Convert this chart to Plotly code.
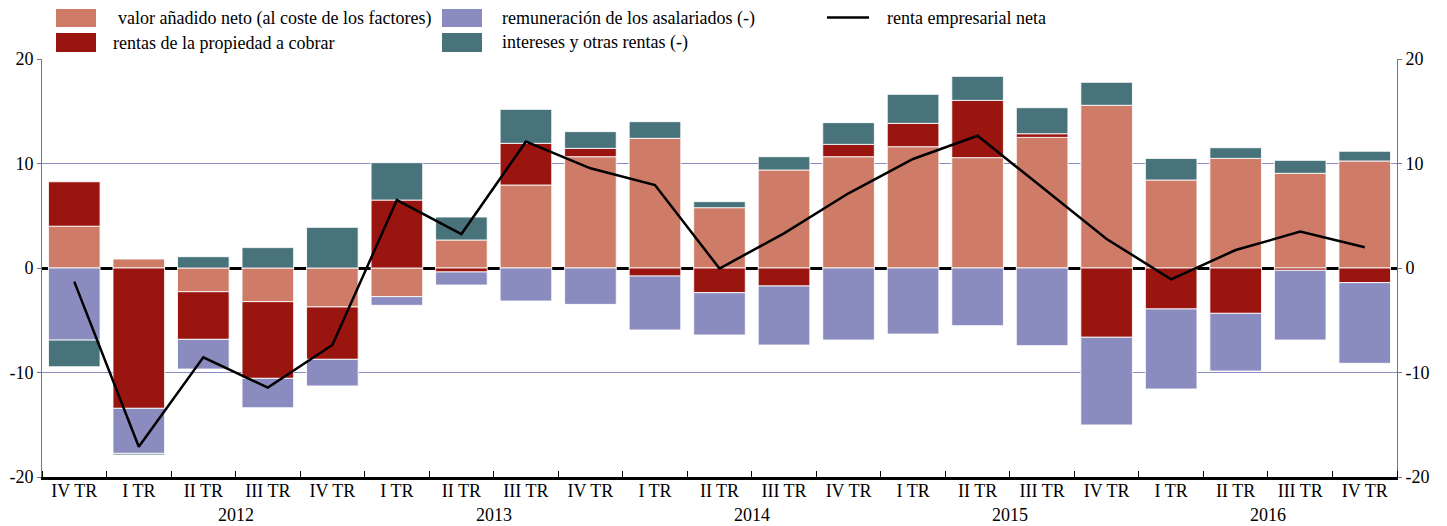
import plotly.graph_objects as go

# trimestres (el primero es IV TR 2011)
quarters = ["IV TR", "I TR", "II TR", "III TR", "IV TR",
            "I TR", "II TR", "III TR", "IV TR",
            "I TR", "II TR", "III TR", "IV TR",
            "I TR", "II TR", "III TR", "IV TR",
            "I TR", "II TR", "III TR", "IV TR"]
years = ["2012", "2013", "2014", "2015", "2016"]
year_first_idx = [1, 5, 9, 13, 17]

valor_anadido = [4.0, 0.86, -2.27, -3.22, -3.73, -2.74, 2.68, 7.94, 10.65, 12.41, 5.77,
                 9.38, 10.65, 11.61, 10.56, 12.5, 15.57, 8.42, 10.49, 9.06, 10.24]
rentas_propiedad = [4.25, -13.43, -4.56, -7.34, -5.01, 6.5, -0.38, 3.99, 0.8, -0.77, -2.36,
                    -1.72, 1.18, 2.23, 5.48, 0.35, -6.63, -3.92, -4.34, -0.22, -1.4]
remuneracion = [-6.9, -4.31, -2.84, -2.81, -2.55, -0.83, -1.25, -3.16, -3.48, -5.16, -4.05,
                -5.65, -6.89, -6.32, -5.52, -7.43, -8.39, -7.66, -5.52, -6.67, -7.72]
intereses = [-2.55, -0.15, 1.08, 1.95, 3.89, 3.58, 2.2, 3.25, 1.6, 1.59, 0.58,
             1.27, 2.08, 2.78, 2.3, 2.49, 2.2, 2.07, 1.02, 1.24, 0.93]
renta_neta = [-1.3, -17.1, -8.55, -11.45, -7.37, 6.5, 3.25, 12.09, 9.54, 7.94, -0.05,
              3.32, 7.15, 10.43, 12.66, 7.72, 2.78, -1.08, 1.72, 3.48, 1.98]

y_ticks = [-20, -10, 0, 10, 20]
y_ticktext = ["-20", "-10", "0", "10", "20"]

FONT = "Liberation Serif"
FS = 18
C_VALOR = "#CE7B68"
C_RENTAS = "#9B1510"
C_REMUN = "#8A8BBE"
C_INTER = "#48737B"

x = list(range(len(quarters)))

fig = go.Figure()
series = [
    ("valor añadido neto (al coste de los factores)", valor_anadido, C_VALOR),
    ("rentas de la propiedad a cobrar", rentas_propiedad, C_RENTAS),
    ("remuneración de los asalariados (-)", remuneracion, C_REMUN),
    ("intereses y otras rentas (-)", intereses, C_INTER),
]
for name, vals, color in series:
    fig.add_trace(go.Bar(
        x=x, y=vals, name=name,
        marker=dict(color=color, line=dict(color="rgba(255,255,255,0.85)", width=1)),
    ))

fig.add_trace(go.Scatter(
    x=x, y=renta_neta, name="renta empresarial neta", mode="lines",
    line=dict(color="black", width=2.5), yaxis="y2",
))

# leyenda dibujada a mano (cuadros grandes como en el original)
# posiciones en px de la imagen -> coordenadas "paper" del área de dibujo
def px_x(p):
    return (p - 42) / 1355


def px_y(p):
    return (477 - p) / 418


# (texto, color, x cuadro, y arriba, y abajo, x texto)
legend_items = [
    (series[0][0], C_VALOR, 56, 9, 27, 116),
    (series[1][0], C_RENTAS, 56, 33, 52, 111),
    (series[2][0], C_REMUN, 442, 9, 27, 500),
    (series[3][0], C_INTER, 442, 33, 52, 500),
]
shapes = []
annotations = []
for text, color, lx, y_top, y_bot, tx in legend_items:
    shapes.append(dict(type="rect", xref="paper", yref="paper",
                       x0=px_x(lx), x1=px_x(lx + 40), y0=px_y(y_bot), y1=px_y(y_top),
                       fillcolor=color, line=dict(width=0)))
    annotations.append(dict(xref="paper", yref="paper", x=px_x(tx), y=px_y((y_top + y_bot) / 2),
                            text=text, showarrow=False, xanchor="left", yanchor="middle",
                            font=dict(family=FONT, size=FS, color="black")))
shapes.append(dict(type="line", xref="paper", yref="paper",
                   x0=px_x(827), x1=px_x(869), y0=px_y(17.5), y1=px_y(17.5),
                   line=dict(color="black", width=2.5)))
annotations.append(dict(xref="paper", yref="paper", x=px_x(885), y=px_y(18),
                        text="renta empresarial neta", showarrow=False,
                        xanchor="left", yanchor="middle",
                        font=dict(family=FONT, size=FS, color="black")))

for yr, i0 in zip(years, year_first_idx):
    annotations.append(dict(xref="x", yref="paper", x=i0 + 1.5, y=-0.091, text=yr,
                            showarrow=False, xanchor="center", yanchor="middle",
                            font=dict(family=FONT, size=FS, color="black")))

# la página tiene 8 px de margen: figura de 1439x518 para llenar la ventana
fig.update_layout(
    width=1439, height=518,
    barmode="relative", bargap=0.2,
    showlegend=False,
    plot_bgcolor="white", paper_bgcolor="white",
    margin=dict(l=34, r=50, t=51, b=49, autoexpand=False),
    font=dict(family=FONT, size=FS, color="black"),
    shapes=shapes, annotations=annotations,
    xaxis=dict(
        range=[-0.5, len(quarters) - 0.5], tickmode="array", tickvals=x, ticktext=quarters,
        ticks="", showgrid=False, zeroline=False, ticklabelstandoff=-5, automargin=False,
        showline=True, linecolor="black", linewidth=3,
        minor=dict(tickmode="linear", tick0=0.5, dtick=1, ticks="inside",
                   ticklen=6, tickcolor="black", showgrid=False),
        tickfont=dict(family=FONT, size=FS),
    ),
    yaxis=dict(
        range=[-20, 20], tickmode="array", tickvals=y_ticks, ticktext=y_ticktext,
        showgrid=True, gridcolor="#8A8CC0", gridwidth=1, automargin=False,
        zeroline=True, zerolinecolor="black", zerolinewidth=2.5,
        showline=True, linecolor="#777777", linewidth=1,
        ticks="outside", ticklen=4, tickcolor="#777777",
        tickfont=dict(family=FONT, size=FS),
    ),
    yaxis2=dict(
        range=[-20, 20], overlaying="y", side="right", automargin=False,
        tickmode="array", tickvals=y_ticks, ticktext=y_ticktext,
        showgrid=False, zeroline=False,
        showline=True, linecolor="#777777", linewidth=1,
        ticks="outside", ticklen=4, tickcolor="#777777",
        tickfont=dict(family=FONT, size=FS),
    ),
)

fig.write_html("out.html")
